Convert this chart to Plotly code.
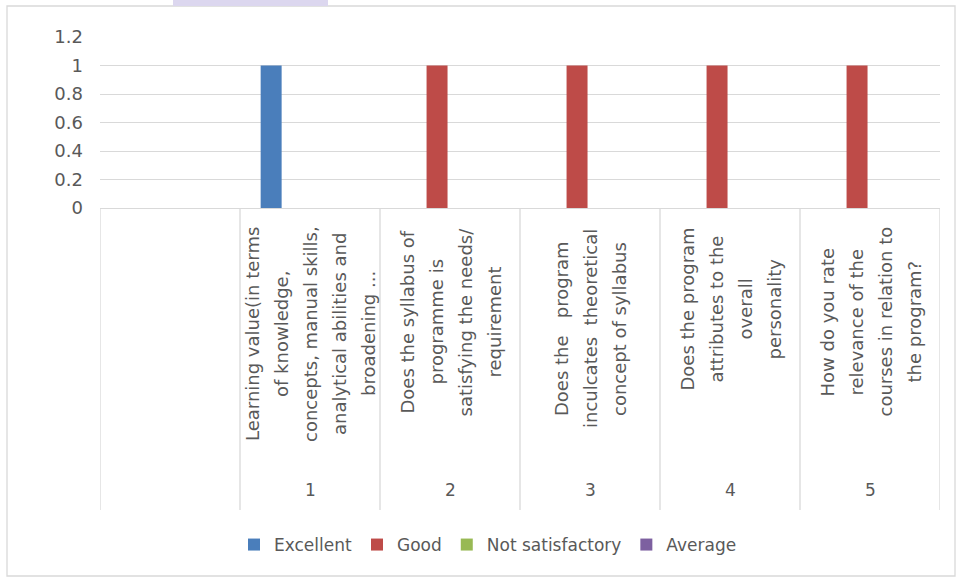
import plotly.graph_objects as go

# ---- data ----
category_numbers = ["1", "2", "3", "4", "5"]
category_lines = [
    ["Learning value(in terms", "of knowledge,", "concepts, manual skills,", "analytical abilities and", "broadening ..."],
    ["Does the syllabus of", "programme is", "satisfying the needs/", "requirement"],
    ["Does the   program", "inculcates  theoretical", "concept of syllabus"],
    ["Does the program", "attributes to the", "overall", "personality"],
    ["How do you rate", "relevance of the", "courses in relation to", "the program?"],
]
series_names = ["Excellent", "Good", "Not satisfactory", "Average"]
excellent = [1, 0, 0, 0, 0]
good = [0, 1, 1, 1, 1]
not_satisfactory = [0, 0, 0, 0, 0]
average = [0, 0, 0, 0, 0]
y_tickvals = [0, 0.2, 0.4, 0.6, 0.8, 1, 1.2]
y_ticktext = ["0", "0.2", "0.4", "0.6", "0.8", "1", "1.2"]

# ---- styling ----
colors = ["#4a7ebb", "#be4b48", "#98b954", "#7d60a0"]
FONT = "DejaVu Sans"
TXT = "#595959"
GRID = "#d9d9d9"

W, H = 957, 577
L, R, T, B = 100, 17, 37, 369
plot_h = H - T - B
plot_w = W - L - R


def py(pix):  # pixel y -> paper
    return (H - B - pix) / plot_h


def px(pix):  # pixel x -> paper
    return (pix - L) / plot_w


x_pos = [i + 1 for i in range(len(category_numbers))]  # slot 0 is the blank category

fig = go.Figure()
for name, vals, col in zip(series_names, [excellent, good, not_satisfactory, average], colors):
    fig.add_trace(go.Bar(x=x_pos, y=vals, name=name, marker_color=col, marker_line_width=0))

annotations = []
line_centers = [334, 322, 329, 309, 322]
line_step = 29
for i, lines in enumerate(category_lines):
    n = len(lines)
    for j, ln in enumerate(lines):
        annotations.append(dict(
            x=x_pos[i], xref="x", y=py(line_centers[i]), yref="paper",
            xshift=(j - (n - 1) / 2) * line_step,
            text=ln, textangle=-90, showarrow=False,
            xanchor="center", yanchor="middle",
            font=dict(family=FONT, size=18, color=TXT),
        ))
    annotations.append(dict(
        x=x_pos[i], xref="x", y=py(490), yref="paper",
        text=category_numbers[i], showarrow=False,
        xanchor="center", yanchor="middle",
        font=dict(family=FONT, size=17, color=TXT),
    ))

shapes = []
for k in range(len(x_pos) + 2):
    shapes.append(dict(type="line", xref="x", yref="paper",
                       x0=k - 0.5, x1=k - 0.5, y0=0, y1=py(510),
                       line=dict(color=GRID, width=1.3)))
# outer chart border
shapes.append(dict(type="rect", xref="paper", yref="paper",
                   x0=px(7), x1=px(955), y0=py(576), y1=py(6),
                   line=dict(color=GRID, width=1.3), layer="below"))
# lavender strip at top
shapes.append(dict(type="rect", xref="paper", yref="paper",
                   x0=px(173), x1=px(328), y0=py(6), y1=py(0),
                   fillcolor="#dcd7ef", line=dict(width=0)))

fig.update_layout(
    width=W, height=H,
    margin=dict(l=L, r=R, t=T, b=B, autoexpand=False),
    paper_bgcolor="white", plot_bgcolor="white",
    barmode="group", bargap=0.26, bargroupgap=0.19,
    font=dict(family=FONT, size=17, color=TXT),
    showlegend=True,
    legend=dict(orientation="h", x=px(488), xanchor="center", y=py(545), yanchor="middle",
                font=dict(family=FONT, size=17, color=TXT), itemwidth=30,
                traceorder="normal"),
    annotations=annotations, shapes=shapes,
)
fig.update_xaxes(range=[-0.5, len(x_pos) + 0.5], showticklabels=False, showgrid=False,
                 zeroline=False, showline=True, linecolor=GRID, linewidth=1.3, ticks="")
fig.update_yaxes(range=[0, 1.2], tickvals=y_tickvals, ticktext=y_ticktext, showgrid=True,
                 gridcolor=GRID, gridwidth=1.3, zeroline=False, showline=False,
                 ticklabelstandoff=16, tickfont=dict(family=FONT, size=18, color=TXT))

fig.write_html("out.html", config={"displayModeBar": False},
               post_script="document.body.style.margin='0';")
